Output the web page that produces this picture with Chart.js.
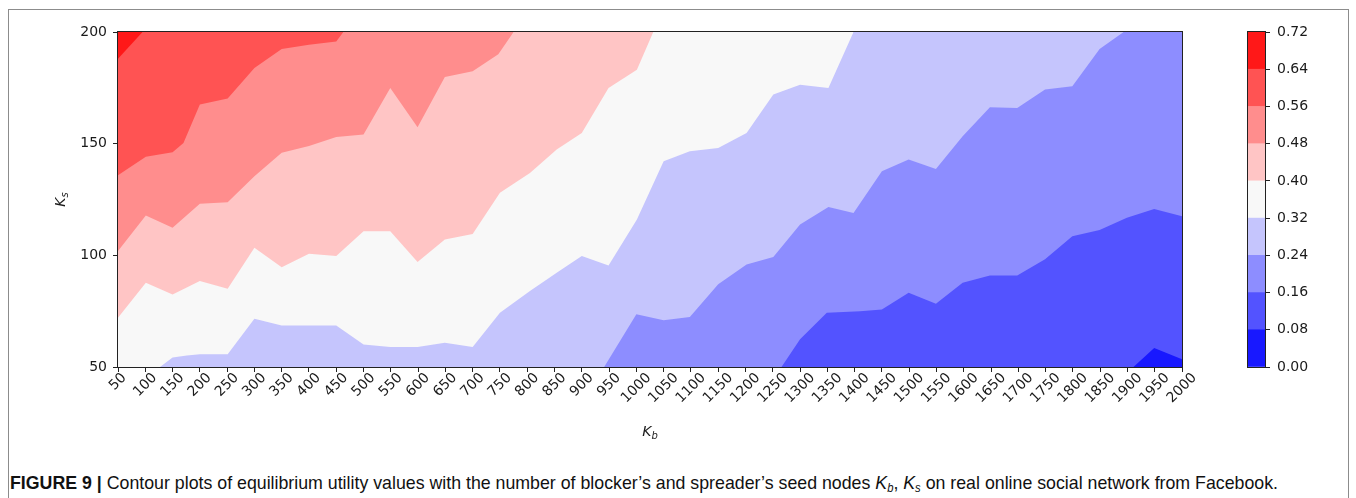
<!DOCTYPE html>
<html>
<head>
<meta charset="utf-8">
<script src="https://cdn.jsdelivr.net/npm/chart.js@4.4.0/dist/chart.umd.min.js"></script>
<style>
  html, body { margin: 0; padding: 0; background: #fff; }
  #page { position: relative; width: 1356px; height: 498px; overflow: hidden; }
  #frame { position: absolute; left: 8px; top: 9px; width: 1341px; height: 600px; border: 1px solid #8c8c8c; box-sizing: border-box; }
  #main { position: absolute; left: 0; top: 0; }
  #cbar { position: absolute; left: 1230px; top: 0; }
  #caption { position: absolute; left: 10px; top: 473px; font-family: "Liberation Sans", Arial, sans-serif; font-size: 19px; line-height: 20px; color: #111; white-space: nowrap; transform-origin: 0 0; }
  #caption sub { font-size: 12px; vertical-align: -3px; line-height: 0; font-style: italic; }
</style>
</head>
<body>
<div id="page">
  <div id="frame"></div>
  <canvas id="main" width="1215" height="470"></canvas>
  <canvas id="cbar" width="126" height="400"></canvas>
  <div id="caption"><b>FIGURE 9 |</b> Contour plots of equilibrium utility values with the number of blocker’s and spreader’s seed nodes <i>K</i><sub>b</sub>, <i>K</i><sub>s</sub> on real online social network from Facebook.</div>
</div>
<script>
// Axis ranges (K_b: blocker seed nodes, K_s: spreader seed nodes)
const kbMin = 50, kbMax = 2000, kbStep = 50;
const ksMin = 50, ksMax = 200, ksStep = 50;

// Contour levels of the equilibrium utility
const levels = [0.00, 0.08, 0.16, 0.24, 0.32, 0.40, 0.48, 0.56, 0.64, 0.72];

// Contour lines as [K_b, K_s] points; the region above each line has utility above its level
const c000 = [[50, 50], [2000, 50]];
const c008 = [[50, 50], [1911, 50], [1949, 58.5], [2000, 53.5]];
const c016 = [[50, 50], [1266, 50], [1300, 62.4], [1349, 74.3], [1410, 75], [1450, 75.8], [1499, 83.2], [1549, 78.3], [1598, 87.7], [1648, 91], [1698, 91], [1749, 98.2], [1799, 108.6], [1849, 111.3], [1899, 116.8], [1949, 120.8], [2000, 117.5]];
const c024 = [[50, 50], [941, 50], [1000, 73.6], [1050, 70.9], [1098, 72.4], [1150, 87], [1202, 95.9], [1251, 99.2], [1300, 113.8], [1352, 121.6], [1398, 119], [1450, 137.7], [1499, 142.9], [1549, 138.7], [1598, 153.3], [1648, 166.3], [1698, 166], [1749, 174.2], [1799, 175.7], [1849, 192.4], [1893, 200]];
const c032 = [[50, 50], [127, 50], [150, 54.2], [176, 55.2], [200, 55.7], [251, 55.7], [300, 71.6], [350, 68.6], [450, 68.6], [500, 60.1], [549, 58.9], [599, 58.9], [649, 60.9], [700, 58.9], [750, 74.3], [805, 84], [854, 92.2], [900, 99.7], [949, 95.5], [1001, 116.1], [1050, 142.1], [1098, 146.6], [1150, 148.1], [1202, 154.8], [1251, 172], [1300, 176.4], [1352, 174.9], [1398, 200]];
const c040 = [[50, 72.1], [101, 87.7], [150, 82.5], [200, 88.5], [251, 85], [300, 103.4], [350, 94.7], [400, 100.7], [450, 99.7], [500, 110.8], [549, 110.8], [599, 97], [649, 107.1], [700, 109.6], [750, 128], [805, 136.9], [854, 147.4], [900, 154.8], [949, 174.9], [1001, 183.1], [1031, 200]];
const c048 = [[50, 101.9], [101, 117.8], [150, 112.3], [200, 123.1], [251, 123.8], [300, 135.4], [350, 145.9], [400, 148.9], [450, 153], [500, 154.1], [549, 174.9], [599, 157.4], [649, 179.9], [700, 182.4], [747, 190], [775, 200]];
const c056 = [[50, 135.9], [101, 144.1], [150, 146.2], [170, 150.3], [200, 167.5], [251, 170.2], [300, 183.9], [350, 192.4], [400, 194.3], [450, 195.8], [463, 200]];
const c064 = [[50, 188], [95, 200]];

// Band colours (blue-white-red), one per interval between levels
const bandColors = ['#1818ff', '#5353ff', '#8d8dff', '#c5c5fd', '#f8f8f8', '#ffc5c5', '#ff8d8d', '#ff5353', '#ff1818'];

const contours = [c000, c008, c016, c024, c032, c040, c048, c056, c064];
const textColor = '#1a1a1a';
const tickFont = { family: 'DejaVu Sans', size: 14 };

function drawSub(ctx, main, sub, cx, cy, rot) {
  ctx.save();
  ctx.translate(cx, cy);
  ctx.rotate(rot);
  ctx.fillStyle = textColor;
  ctx.textAlign = 'left';
  ctx.textBaseline = 'alphabetic';
  ctx.font = 'italic 14px "DejaVu Sans"';
  const w1 = ctx.measureText(main).width;
  ctx.font = 'italic 10px "DejaVu Sans"';
  const w2 = ctx.measureText(sub).width;
  const x0 = -(w1 + w2) / 2;
  ctx.font = 'italic 14px "DejaVu Sans"';
  ctx.fillText(main, x0, 5);
  ctx.font = 'italic 10px "DejaVu Sans"';
  ctx.fillText(sub, x0 + w1, 8);
  ctx.restore();
}

// Frame, rotated K_b tick labels and axis titles
const axisDecor = {
  id: 'axisDecor',
  afterDraw(chart) {
    const { ctx, chartArea: a, scales: { x } } = chart;
    ctx.save();
    ctx.strokeStyle = '#222';
    ctx.lineWidth = 1;
    ctx.strokeRect(Math.round(a.left) - 0.5, Math.round(a.top) - 0.5, Math.round(a.right - a.left) + 1, Math.round(a.bottom - a.top) + 1);
    ctx.font = '14px "DejaVu Sans"';
    ctx.fillStyle = textColor;
    ctx.textAlign = 'center';
    ctx.textBaseline = 'middle';
    x.ticks.forEach(t => {
      const px = x.getPixelForValue(t.value);
      const lbl = String(t.value);
      const w = ctx.measureText(lbl).width;
      const side = (w + 10) * Math.SQRT1_2;
      const cy = a.bottom + 5 + side / 2;
      ctx.save();
      ctx.translate(px, cy);
      ctx.rotate(-Math.PI / 4);
      ctx.fillText(lbl, 0, 0);
      ctx.restore();
    });
    drawSub(ctx, 'K', 'b', (a.left + a.right) / 2, 431, 0);
    drawSub(ctx, 'K', 's', 60, (a.top + a.bottom) / 2, -Math.PI / 2);
    ctx.restore();
  }
};

const tickGrid = { display: true, drawOnChartArea: false, drawTicks: true, tickLength: 5, color: '#222', lineWidth: 1 };

new Chart(document.getElementById('main'), {
  type: 'scatter',
  data: {
    datasets: contours.map((pts, i) => ({
      label: 'u > ' + levels[i].toFixed(2),
      data: pts,
      showLine: true,
      fill: 'end',
      backgroundColor: bandColors[i],
      borderColor: 'rgba(0,0,0,0)',
      borderWidth: 0,
      pointRadius: 0,
      pointHoverRadius: 0,
      tension: 0,
      order: contours.length - i
    }))
  },
  options: {
    responsive: false,
    animation: false,
    events: [],
    layout: { padding: { left: 0, top: 32, right: 33, bottom: 0 } },
    plugins: { legend: { display: false }, tooltip: { enabled: false }, filler: { propagate: false } },
    scales: {
      x: {
        type: 'linear', min: kbMin, max: kbMax,
        afterFit(s) { s.height = 103; },
        ticks: { display: false, stepSize: kbStep, autoSkip: false, maxTicksLimit: 100 },
        grid: tickGrid,
        border: { display: false }
      },
      y: {
        type: 'linear', min: ksMin, max: ksMax,
        afterFit(s) { s.width = 118; },
        ticks: { stepSize: ksStep, padding: 6, color: textColor, font: tickFont },
        grid: tickGrid,
        border: { display: false }
      }
    }
  },
  plugins: [axisDecor]
});

// Colour bar
const outline = {
  id: 'outline',
  afterDraw(chart) {
    const { ctx, chartArea: a } = chart;
    ctx.save();
    ctx.strokeStyle = '#222';
    ctx.lineWidth = 1;
    ctx.strokeRect(Math.round(a.left) - 0.5, Math.round(a.top) - 0.5, Math.round(a.right - a.left) + 1, Math.round(a.bottom - a.top) + 1);
    ctx.restore();
  }
};

new Chart(document.getElementById('cbar'), {
  type: 'bar',
  data: {
    labels: [''],
    datasets: bandColors.map((c, i) => ({
      data: [[levels[i], levels[i + 1]]],
      backgroundColor: c,
      borderWidth: 0,
      barPercentage: 1,
      categoryPercentage: 1,
      grouped: false
    }))
  },
  options: {
    responsive: false,
    animation: false,
    events: [],
    layout: { padding: { left: 18, top: 32, right: 0, bottom: 33 } },
    plugins: { legend: { display: false }, tooltip: { enabled: false } },
    scales: {
      x: { display: false },
      y: {
        position: 'right', min: levels[0], max: levels[levels.length - 1],
        afterFit(s) { s.width = 91; },
        ticks: { stepSize: 0.08, padding: 7, color: textColor, font: tickFont, callback: v => v.toFixed(2) },
        grid: tickGrid,
        border: { display: false }
      }
    }
  },
  plugins: [outline]
});

// Fit the caption to the frame width
const cap = document.getElementById('caption');
const capW = cap.getBoundingClientRect().width;
cap.style.transform = 'scaleX(' + (1268 / capW) + ')';
</script>
</body>
</html>
